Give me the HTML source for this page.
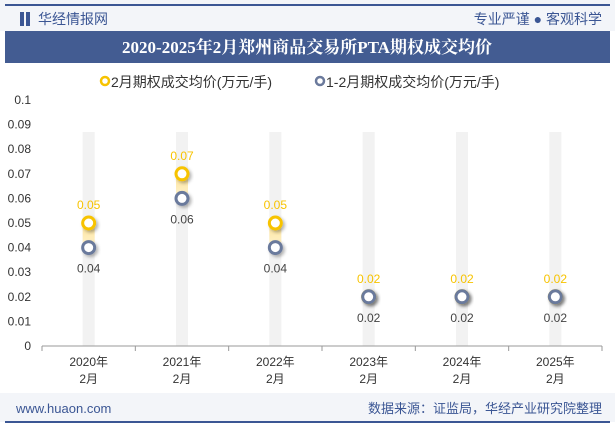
<!DOCTYPE html>
<html><head><meta charset="utf-8"><style>
body{margin:0;width:615px;height:427px;overflow:hidden;background:#fff;font-family:"Liberation Sans","Noto Sans CJK SC",sans-serif;}
</style></head><body>
<svg width="615" height="427" style="position:absolute;left:0;top:0">
<defs><linearGradient id="yg" x1="0" y1="0" x2="0" y2="1"><stop offset="0" stop-color="#fde39a"/><stop offset="1" stop-color="#fff3cf"/></linearGradient>
<filter id="sh" x="-50%" y="-50%" width="200%" height="200%"><feDropShadow dx="2" dy="2" stdDeviation="1.5" flood-color="#000" flood-opacity="0.3"/></filter></defs>
<rect x="0" y="0" width="615" height="31" fill="#f3f5f9"/>
<rect x="5" y="4" width="605" height="2" fill="#3b5694"/>
<rect x="20" y="12" width="4" height="14" fill="#3b5694"/><rect x="26" y="12" width="4" height="14" fill="#3b5694"/>
<text x="38" y="24" font-size="14" fill="#3b5694">华经情报网</text>
<text x="602" y="24" font-size="14" fill="#3b5694" text-anchor="end">专业严谨 ● 客观科学</text>
<rect x="5" y="31" width="605" height="32" fill="#435c92"/>
<text x="307" y="53" font-size="17" font-weight="bold" fill="#fff" text-anchor="middle" font-family="Liberation Serif,Noto Serif CJK SC,serif">2020-2025年2月郑州商品交易所PTA期权成交均价</text>
<g>
<circle cx="105" cy="81" r="4" fill="#fff" stroke="#f7c300" stroke-width="2.5"/>
<text x="111" y="87" font-size="14" fill="#333">2月期权成交均价(万元/手)</text>
<circle cx="320" cy="81" r="4" fill="#fff" stroke="#6b7a9c" stroke-width="2.5"/>
<text x="326" y="87" font-size="14" fill="#333">1-2月期权成交均价(万元/手)</text>
</g>
<rect x="0" y="393" width="615" height="29" fill="#f3f5f9"/>
<rect x="5" y="421" width="605" height="2" fill="#3b5694"/>
<text x="16" y="413" font-size="13" fill="#3b5694">www.huaon.com</text>
<text x="602" y="413" font-size="13" fill="#3b5694" text-anchor="end">数据来源：证监局，华经产业研究院整理</text>
<g id="plot"></g>
</svg>
<script>
const categories=["2020年|2月","2021年|2月","2022年|2月","2023年|2月","2024年|2月","2025年|2月"];
const febValues=[0.05,0.07,0.05,0.02,0.02,0.02];
const ytdValues=[0.04,0.06,0.04,0.02,0.02,0.02];
const yTicks=[0,0.01,0.02,0.03,0.04,0.05,0.06,0.07,0.08,0.09,0.1];
const NS="http://www.w3.org/2000/svg";
const g=document.getElementById('plot');
const x0=42,x1=602,yb=346,yt=100;
const bw=(x1-x0)/categories.length;
const X=i=>x0+bw*(i+0.5);
const Y=v=>yb-(v/0.1)*(yb-yt);
function el(t,a){const e=document.createElementNS(NS,t);for(const k in a)e.setAttribute(k,a[k]);g.appendChild(e);return e;}
yTicks.forEach(v=>{const t=el('text',{x:31,y:Y(v)+4,'font-size':12,fill:'#333','text-anchor':'end'});t.textContent=String(v);

});
categories.forEach((c,i)=>{const b=el('rect',{x:X(i)-6,y:132,width:12,height:yb-132,fill:'#f2f2f2'});

});
const ax=el('line',{x1:x0,y1:yb,x2:x1,y2:yb,stroke:'#999'});


for(let i=0;i<=categories.length;i++)el('line',{x1:x0+bw*i,y1:yb,x2:x0+bw*i,y2:yb+5,stroke:'#999'});
categories.forEach((c,i)=>{const p=c.split('|');
const t=el('text',{x:X(i),y:366,'font-size':12,fill:'#333','text-anchor':'middle'});t.textContent=p[0];


const t2=el('text',{x:X(i),y:383,'font-size':12,fill:'#333','text-anchor':'middle'});t2.textContent=p[1];});
categories.forEach((c,i)=>{
const a=Y(febValues[i]),b=Y(ytdValues[i]);
if(b-a>1){const r=el('rect',{x:X(i)-6,y:a,width:12,height:b-a,fill:'url(#yg)'});

}
const c1=el('circle',{cx:X(i),cy:a,r:6,fill:'#fff',stroke:'#f7c300','stroke-width':3,filter:'url(#sh)'});


const c2=el('circle',{cx:X(i),cy:b,r:6,fill:'#fff',stroke:'#6b7a9c','stroke-width':3,filter:'url(#sh)'});


const l1=el('text',{x:X(i),y:a-14,'font-size':12,fill:'#f7c300','text-anchor':'middle'});l1.textContent=febValues[i];


const l2=el('text',{x:X(i),y:b+25,'font-size':12,fill:'#444','text-anchor':'middle'});l2.textContent=ytdValues[i];


});
</script>
</body></html>
